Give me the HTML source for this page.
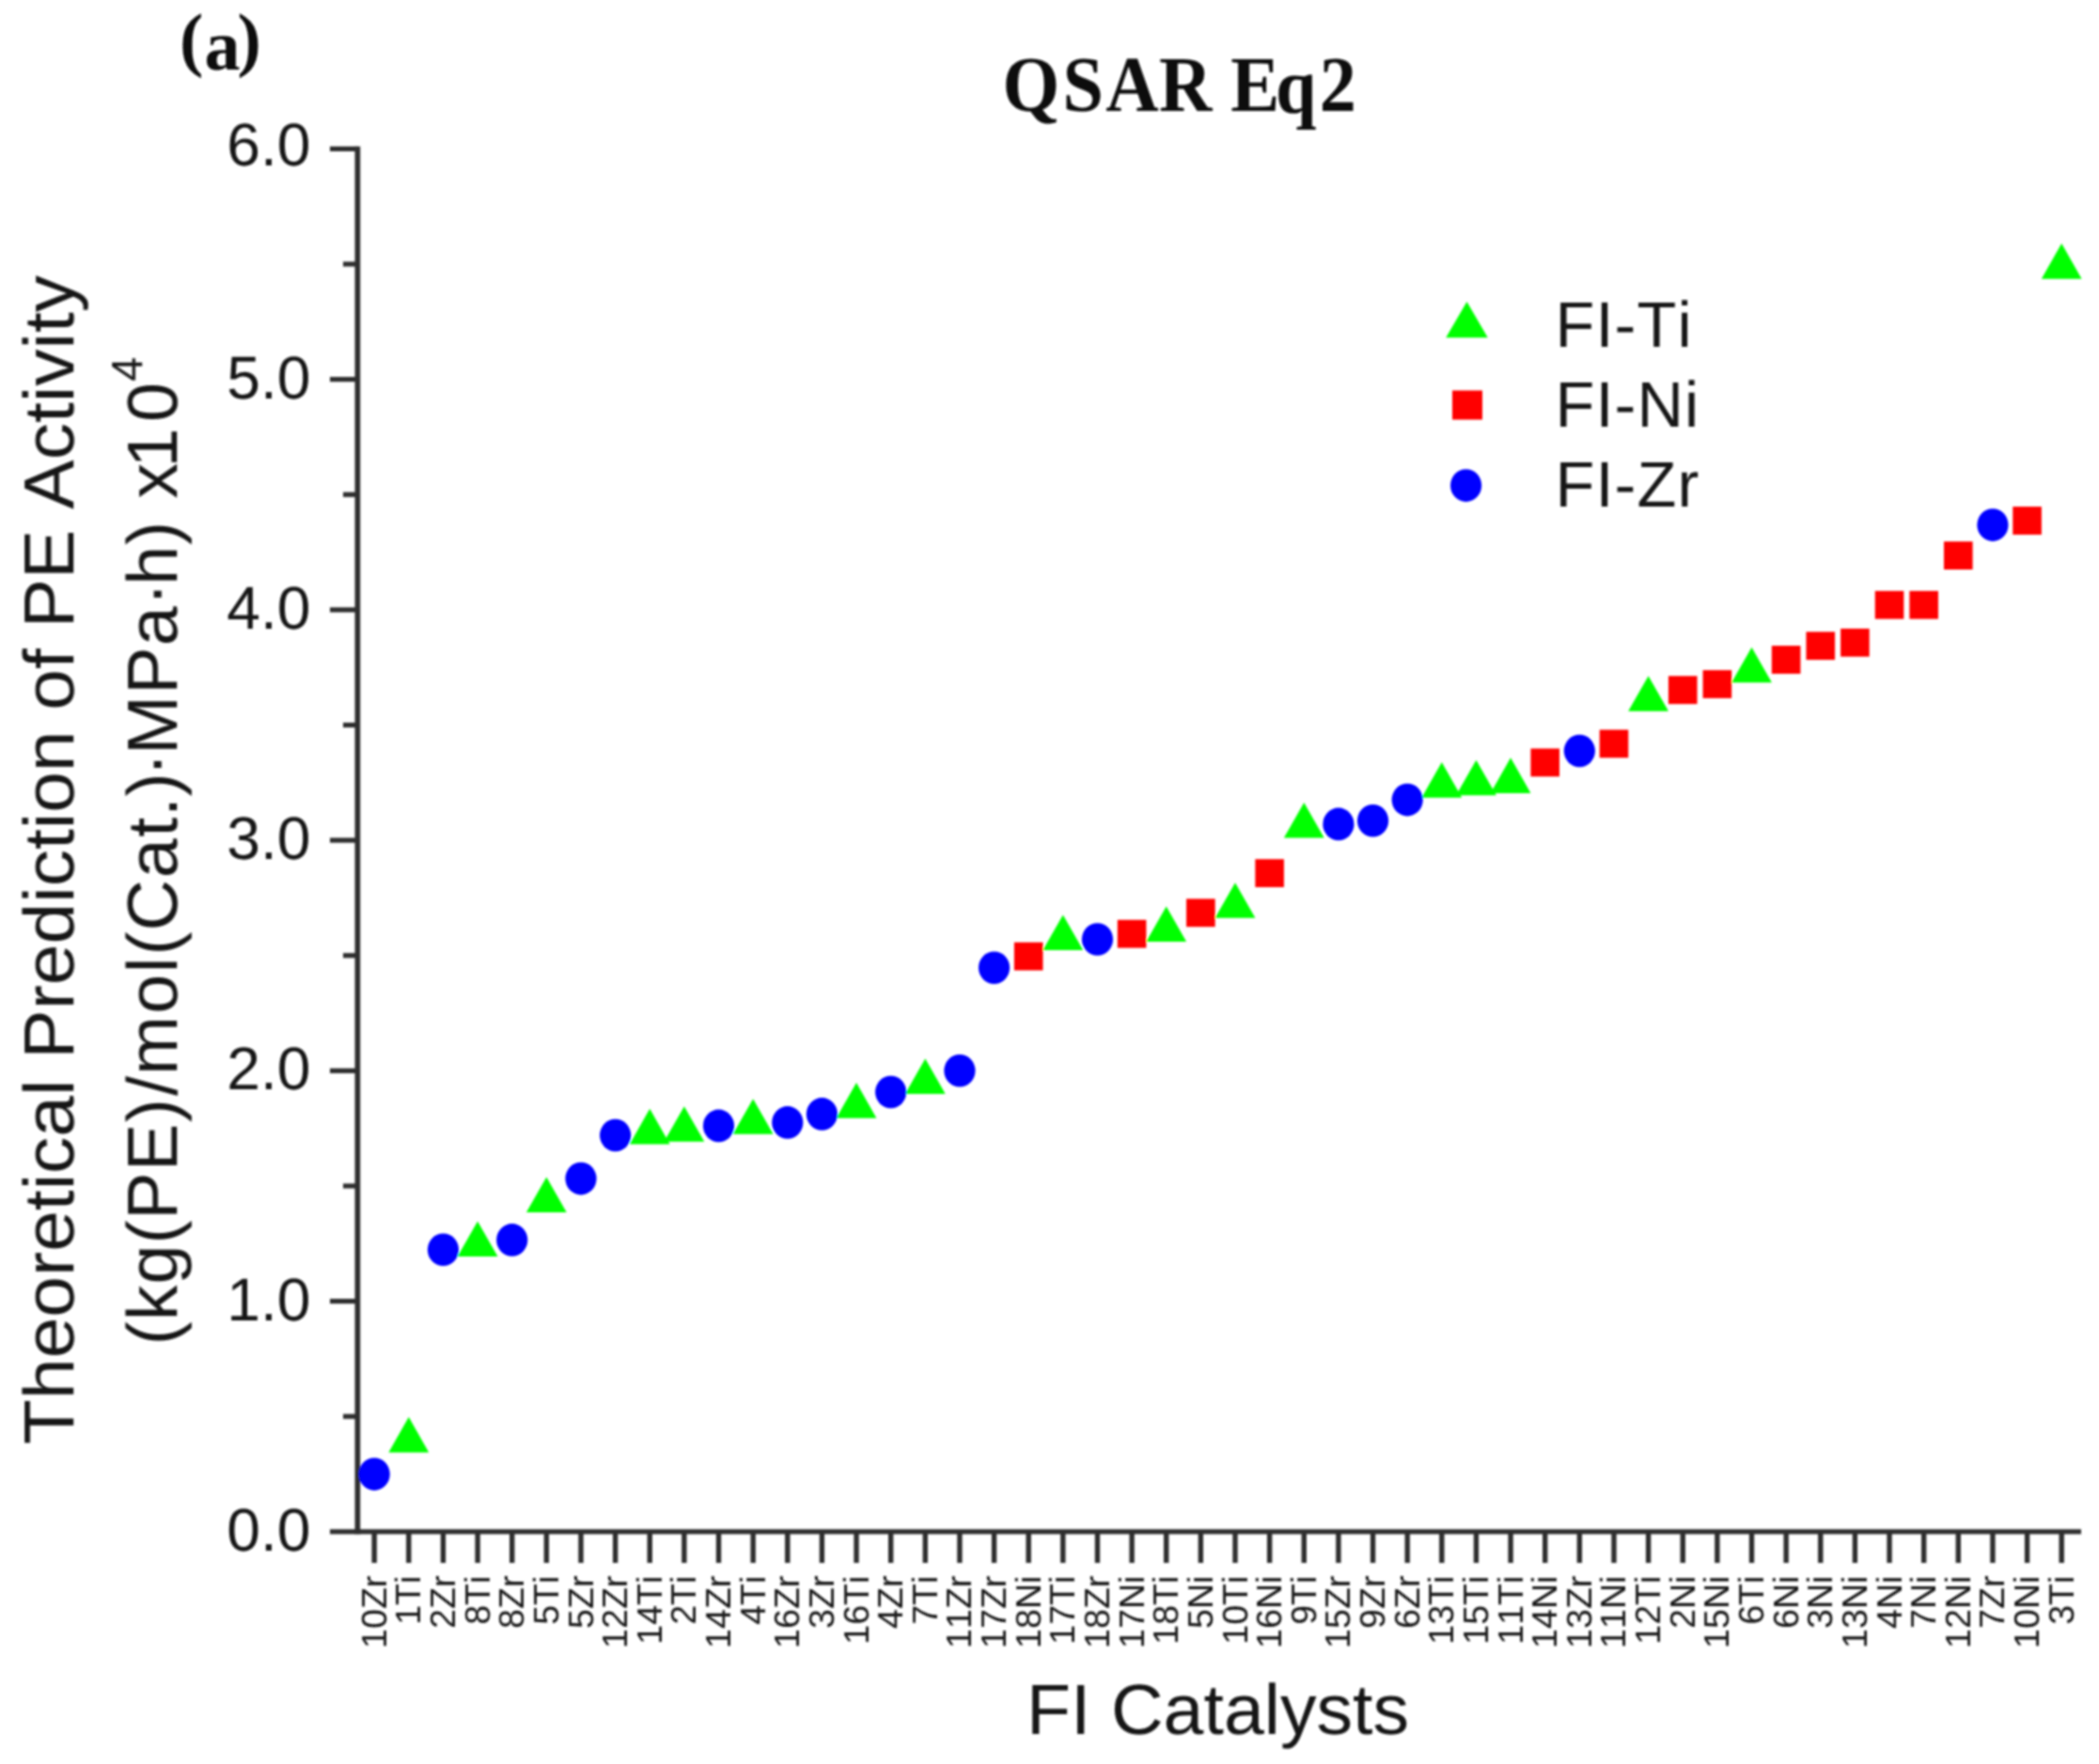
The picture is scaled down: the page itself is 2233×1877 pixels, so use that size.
<!DOCTYPE html>
<html lang="en"><head><meta charset="utf-8"><title>QSAR Eq2</title>
<style>html,body{margin:0;padding:0;background:#fff}body{width:2233px;height:1877px;overflow:hidden}svg{display:block}text{font-family:'Liberation Sans', sans-serif;fill:#151515;font-kerning:none;text-rendering:geometricPrecision}.serif{font-family:'Liberation Serif', serif;font-weight:bold;fill:#0c0c0c}</style>
</head><body>
<svg width="2233" height="1877" viewBox="0 0 2233 1877">
<rect x="0" y="0" width="2233" height="1877" fill="#ffffff"/>
<g filter="url(#soft)">
<text class="serif" transform="scale(1.0000,1)" font-size="76" x="190.89 217.55 252.55" y="67.30 74.40 67.30">(a)</text>
<text class="serif" transform="scale(0.9300,1)" font-size="84" x="1146.74 1215.70 1264.71 1325.90 1367.90 1407.93 1459.23 1509.31" y="117.50 117.50 117.50 117.50 117.50 117.50 120.00 117.50">QSAR Eq2</text>
<g fill="#2e2e2e">
<rect x="377.55" y="155.80" width="5.70" height="1476.60"/>
<rect x="351.00" y="1627.20" width="1863.00" height="5.20"/>
<rect x="351.00" y="155.80" width="29.40" height="5.20"/>
<rect x="365.00" y="278.42" width="15.40" height="5.20"/>
<rect x="351.00" y="401.03" width="29.40" height="5.20"/>
<rect x="365.00" y="523.65" width="15.40" height="5.20"/>
<rect x="351.00" y="646.27" width="29.40" height="5.20"/>
<rect x="365.00" y="768.88" width="15.40" height="5.20"/>
<rect x="351.00" y="891.50" width="29.40" height="5.20"/>
<rect x="365.00" y="1014.12" width="15.40" height="5.20"/>
<rect x="351.00" y="1136.73" width="29.40" height="5.20"/>
<rect x="365.00" y="1259.35" width="15.40" height="5.20"/>
<rect x="351.00" y="1381.97" width="29.40" height="5.20"/>
<rect x="365.00" y="1504.58" width="15.40" height="5.20"/>
<rect x="395.50" y="1629.80" width="5.40" height="33.20"/>
<rect x="432.13" y="1629.80" width="5.40" height="33.20"/>
<rect x="468.77" y="1629.80" width="5.40" height="33.20"/>
<rect x="505.40" y="1629.80" width="5.40" height="33.20"/>
<rect x="542.03" y="1629.80" width="5.40" height="33.20"/>
<rect x="578.66" y="1629.80" width="5.40" height="33.20"/>
<rect x="615.30" y="1629.80" width="5.40" height="33.20"/>
<rect x="651.93" y="1629.80" width="5.40" height="33.20"/>
<rect x="688.56" y="1629.80" width="5.40" height="33.20"/>
<rect x="725.19" y="1629.80" width="5.40" height="33.20"/>
<rect x="761.83" y="1629.80" width="5.40" height="33.20"/>
<rect x="798.46" y="1629.80" width="5.40" height="33.20"/>
<rect x="835.09" y="1629.80" width="5.40" height="33.20"/>
<rect x="871.72" y="1629.80" width="5.40" height="33.20"/>
<rect x="908.36" y="1629.80" width="5.40" height="33.20"/>
<rect x="944.99" y="1629.80" width="5.40" height="33.20"/>
<rect x="981.62" y="1629.80" width="5.40" height="33.20"/>
<rect x="1018.26" y="1629.80" width="5.40" height="33.20"/>
<rect x="1054.89" y="1629.80" width="5.40" height="33.20"/>
<rect x="1091.52" y="1629.80" width="5.40" height="33.20"/>
<rect x="1128.15" y="1629.80" width="5.40" height="33.20"/>
<rect x="1164.79" y="1629.80" width="5.40" height="33.20"/>
<rect x="1201.42" y="1629.80" width="5.40" height="33.20"/>
<rect x="1238.05" y="1629.80" width="5.40" height="33.20"/>
<rect x="1274.68" y="1629.80" width="5.40" height="33.20"/>
<rect x="1311.32" y="1629.80" width="5.40" height="33.20"/>
<rect x="1347.95" y="1629.80" width="5.40" height="33.20"/>
<rect x="1384.58" y="1629.80" width="5.40" height="33.20"/>
<rect x="1421.21" y="1629.80" width="5.40" height="33.20"/>
<rect x="1457.85" y="1629.80" width="5.40" height="33.20"/>
<rect x="1494.48" y="1629.80" width="5.40" height="33.20"/>
<rect x="1531.11" y="1629.80" width="5.40" height="33.20"/>
<rect x="1567.74" y="1629.80" width="5.40" height="33.20"/>
<rect x="1604.38" y="1629.80" width="5.40" height="33.20"/>
<rect x="1641.01" y="1629.80" width="5.40" height="33.20"/>
<rect x="1677.64" y="1629.80" width="5.40" height="33.20"/>
<rect x="1714.28" y="1629.80" width="5.40" height="33.20"/>
<rect x="1750.91" y="1629.80" width="5.40" height="33.20"/>
<rect x="1787.54" y="1629.80" width="5.40" height="33.20"/>
<rect x="1824.17" y="1629.80" width="5.40" height="33.20"/>
<rect x="1860.81" y="1629.80" width="5.40" height="33.20"/>
<rect x="1897.44" y="1629.80" width="5.40" height="33.20"/>
<rect x="1934.07" y="1629.80" width="5.40" height="33.20"/>
<rect x="1970.70" y="1629.80" width="5.40" height="33.20"/>
<rect x="2007.34" y="1629.80" width="5.40" height="33.20"/>
<rect x="2043.97" y="1629.80" width="5.40" height="33.20"/>
<rect x="2080.60" y="1629.80" width="5.40" height="33.20"/>
<rect x="2117.23" y="1629.80" width="5.40" height="33.20"/>
<rect x="2153.87" y="1629.80" width="5.40" height="33.20"/>
<rect x="2190.50" y="1629.80" width="5.40" height="33.20"/>
</g>
<text x="330.5" y="176.40" font-size="64.2" text-anchor="end">6.0</text>
<text x="330.5" y="423.63" font-size="64.2" text-anchor="end">5.0</text>
<text x="330.5" y="668.87" font-size="64.2" text-anchor="end">4.0</text>
<text x="330.5" y="914.10" font-size="64.2" text-anchor="end">3.0</text>
<text x="330.5" y="1159.33" font-size="64.2" text-anchor="end">2.0</text>
<text x="330.5" y="1404.57" font-size="64.2" text-anchor="end">1.0</text>
<text x="330.5" y="1649.80" font-size="64.2" text-anchor="end">0.0</text>
<text transform="translate(410.70,1676.6) rotate(-90)" font-size="37.6" text-anchor="end" fill="#3c3c3c">10Zr</text>
<text transform="translate(447.33,1676.6) rotate(-90)" font-size="37.6" text-anchor="end" fill="#3c3c3c">1Ti</text>
<text transform="translate(483.97,1676.6) rotate(-90)" font-size="37.6" text-anchor="end" fill="#3c3c3c">2Zr</text>
<text transform="translate(520.60,1676.6) rotate(-90)" font-size="37.6" text-anchor="end" fill="#3c3c3c">8Ti</text>
<text transform="translate(557.23,1676.6) rotate(-90)" font-size="37.6" text-anchor="end" fill="#3c3c3c">8Zr</text>
<text transform="translate(593.86,1676.6) rotate(-90)" font-size="37.6" text-anchor="end" fill="#3c3c3c">5Ti</text>
<text transform="translate(630.50,1676.6) rotate(-90)" font-size="37.6" text-anchor="end" fill="#3c3c3c">5Zr</text>
<text transform="translate(667.13,1676.6) rotate(-90)" font-size="37.6" text-anchor="end" fill="#3c3c3c">12Zr</text>
<text transform="translate(703.76,1676.6) rotate(-90)" font-size="37.6" text-anchor="end" fill="#3c3c3c">14Ti</text>
<text transform="translate(740.39,1676.6) rotate(-90)" font-size="37.6" text-anchor="end" fill="#3c3c3c">2Ti</text>
<text transform="translate(777.03,1676.6) rotate(-90)" font-size="37.6" text-anchor="end" fill="#3c3c3c">14Zr</text>
<text transform="translate(813.66,1676.6) rotate(-90)" font-size="37.6" text-anchor="end" fill="#3c3c3c">4Ti</text>
<text transform="translate(850.29,1676.6) rotate(-90)" font-size="37.6" text-anchor="end" fill="#3c3c3c">16Zr</text>
<text transform="translate(886.92,1676.6) rotate(-90)" font-size="37.6" text-anchor="end" fill="#3c3c3c">3Zr</text>
<text transform="translate(923.56,1676.6) rotate(-90)" font-size="37.6" text-anchor="end" fill="#3c3c3c">16Ti</text>
<text transform="translate(960.19,1676.6) rotate(-90)" font-size="37.6" text-anchor="end" fill="#3c3c3c">4Zr</text>
<text transform="translate(996.82,1676.6) rotate(-90)" font-size="37.6" text-anchor="end" fill="#3c3c3c">7Ti</text>
<text transform="translate(1033.46,1676.6) rotate(-90)" font-size="37.6" text-anchor="end" fill="#3c3c3c">11Zr</text>
<text transform="translate(1070.09,1676.6) rotate(-90)" font-size="37.6" text-anchor="end" fill="#3c3c3c">17Zr</text>
<text transform="translate(1106.72,1676.6) rotate(-90)" font-size="37.6" text-anchor="end" fill="#3c3c3c">18Ni</text>
<text transform="translate(1143.35,1676.6) rotate(-90)" font-size="37.6" text-anchor="end" fill="#3c3c3c">17Ti</text>
<text transform="translate(1179.99,1676.6) rotate(-90)" font-size="37.6" text-anchor="end" fill="#3c3c3c">18Zr</text>
<text transform="translate(1216.62,1676.6) rotate(-90)" font-size="37.6" text-anchor="end" fill="#3c3c3c">17Ni</text>
<text transform="translate(1253.25,1676.6) rotate(-90)" font-size="37.6" text-anchor="end" fill="#3c3c3c">18Ti</text>
<text transform="translate(1289.88,1676.6) rotate(-90)" font-size="37.6" text-anchor="end" fill="#3c3c3c">5Ni</text>
<text transform="translate(1326.52,1676.6) rotate(-90)" font-size="37.6" text-anchor="end" fill="#3c3c3c">10Ti</text>
<text transform="translate(1363.15,1676.6) rotate(-90)" font-size="37.6" text-anchor="end" fill="#3c3c3c">16Ni</text>
<text transform="translate(1399.78,1676.6) rotate(-90)" font-size="37.6" text-anchor="end" fill="#3c3c3c">9Ti</text>
<text transform="translate(1436.41,1676.6) rotate(-90)" font-size="37.6" text-anchor="end" fill="#3c3c3c">15Zr</text>
<text transform="translate(1473.05,1676.6) rotate(-90)" font-size="37.6" text-anchor="end" fill="#3c3c3c">9Zr</text>
<text transform="translate(1509.68,1676.6) rotate(-90)" font-size="37.6" text-anchor="end" fill="#3c3c3c">6Zr</text>
<text transform="translate(1546.31,1676.6) rotate(-90)" font-size="37.6" text-anchor="end" fill="#3c3c3c">13Ti</text>
<text transform="translate(1582.94,1676.6) rotate(-90)" font-size="37.6" text-anchor="end" fill="#3c3c3c">15Ti</text>
<text transform="translate(1619.58,1676.6) rotate(-90)" font-size="37.6" text-anchor="end" fill="#3c3c3c">11Ti</text>
<text transform="translate(1656.21,1676.6) rotate(-90)" font-size="37.6" text-anchor="end" fill="#3c3c3c">14Ni</text>
<text transform="translate(1692.84,1676.6) rotate(-90)" font-size="37.6" text-anchor="end" fill="#3c3c3c">13Zr</text>
<text transform="translate(1729.48,1676.6) rotate(-90)" font-size="37.6" text-anchor="end" fill="#3c3c3c">11Ni</text>
<text transform="translate(1766.11,1676.6) rotate(-90)" font-size="37.6" text-anchor="end" fill="#3c3c3c">12Ti</text>
<text transform="translate(1802.74,1676.6) rotate(-90)" font-size="37.6" text-anchor="end" fill="#3c3c3c">2Ni</text>
<text transform="translate(1839.37,1676.6) rotate(-90)" font-size="37.6" text-anchor="end" fill="#3c3c3c">15Ni</text>
<text transform="translate(1876.01,1676.6) rotate(-90)" font-size="37.6" text-anchor="end" fill="#3c3c3c">6Ti</text>
<text transform="translate(1912.64,1676.6) rotate(-90)" font-size="37.6" text-anchor="end" fill="#3c3c3c">6Ni</text>
<text transform="translate(1949.27,1676.6) rotate(-90)" font-size="37.6" text-anchor="end" fill="#3c3c3c">3Ni</text>
<text transform="translate(1985.90,1676.6) rotate(-90)" font-size="37.6" text-anchor="end" fill="#3c3c3c">13Ni</text>
<text transform="translate(2022.54,1676.6) rotate(-90)" font-size="37.6" text-anchor="end" fill="#3c3c3c">4Ni</text>
<text transform="translate(2059.17,1676.6) rotate(-90)" font-size="37.6" text-anchor="end" fill="#3c3c3c">7Ni</text>
<text transform="translate(2095.80,1676.6) rotate(-90)" font-size="37.6" text-anchor="end" fill="#3c3c3c">12Ni</text>
<text transform="translate(2132.43,1676.6) rotate(-90)" font-size="37.6" text-anchor="end" fill="#3c3c3c">7Zr</text>
<text transform="translate(2169.07,1676.6) rotate(-90)" font-size="37.6" text-anchor="end" fill="#3c3c3c">10Ni</text>
<text transform="translate(2205.70,1676.6) rotate(-90)" font-size="37.6" text-anchor="end" fill="#3c3c3c">3Ti</text>
<text x="1092" y="1844.8" font-size="75.5" textLength="407" lengthAdjust="spacingAndGlyphs">FI Catalysts</text>
<text transform="translate(78.2,1537) rotate(-90)" font-size="75.5" textLength="1244" lengthAdjust="spacingAndGlyphs">Theoretical Prediction of PE Activity</text>
<text transform="translate(188.2,0) rotate(-90)" font-size="75.5" x="-1431.21 -1405.39 -1366.64 -1323.52 -1297.71 -1246.01 -1194.31 -1165.90 -1144.11 -1078.79 -1035.18 -1016.54 -990.55 -934.20 -890.81 -869.13 -847.45 -826.05 -803.14 -738.75 -687.19 -644.85 -622.83 -580.11 -545.00 -530.60 -497.53 -449.00" y="0">(kg(PE)/mol(Cat.)·MPa·h) x10<tspan font-size="46.5" x="-405.87" y="-37.5">4</tspan></text>
<polygon fill="#00ff00" points="413.43,1545.40 456.23,1545.40 434.83,1507.80"/>
<polygon fill="#00ff00" points="486.70,1337.00 529.50,1337.00 508.10,1299.40"/>
<polygon fill="#00ff00" points="559.96,1290.00 602.76,1290.00 581.36,1252.40"/>
<polygon fill="#00ff00" points="669.86,1217.40 712.66,1217.40 691.26,1179.80"/>
<polygon fill="#00ff00" points="706.49,1214.80 749.29,1214.80 727.89,1177.20"/>
<polygon fill="#00ff00" points="779.76,1206.80 822.56,1206.80 801.16,1169.20"/>
<polygon fill="#00ff00" points="889.66,1189.70 932.46,1189.70 911.06,1152.10"/>
<polygon fill="#00ff00" points="962.92,1164.00 1005.72,1164.00 984.32,1126.40"/>
<polygon fill="#00ff00" points="1109.45,1011.00 1152.25,1011.00 1130.85,973.40"/>
<polygon fill="#00ff00" points="1219.35,1002.00 1262.15,1002.00 1240.75,964.40"/>
<polygon fill="#00ff00" points="1292.62,976.80 1335.42,976.80 1314.02,939.20"/>
<polygon fill="#00ff00" points="1365.88,891.60 1408.68,891.60 1387.28,854.00"/>
<polygon fill="#00ff00" points="1512.41,848.70 1555.21,848.70 1533.81,811.10"/>
<polygon fill="#00ff00" points="1549.04,846.30 1591.84,846.30 1570.44,808.70"/>
<polygon fill="#00ff00" points="1585.68,843.90 1628.48,843.90 1607.08,806.30"/>
<polygon fill="#00ff00" points="1732.21,756.80 1775.01,756.80 1753.61,719.20"/>
<polygon fill="#00ff00" points="1842.11,726.30 1884.91,726.30 1863.51,688.70"/>
<polygon fill="#00ff00" points="2171.80,296.70 2214.60,296.70 2193.20,259.10"/>
<rect fill="#ff0000" x="1078.92" y="1002.70" width="30.60" height="29.80"/>
<rect fill="#ff0000" x="1188.82" y="978.80" width="30.60" height="29.80"/>
<rect fill="#ff0000" x="1262.08" y="956.40" width="30.60" height="29.80"/>
<rect fill="#ff0000" x="1335.35" y="914.20" width="30.60" height="29.80"/>
<rect fill="#ff0000" x="1628.41" y="796.50" width="30.60" height="29.80"/>
<rect fill="#ff0000" x="1701.68" y="776.50" width="30.60" height="29.80"/>
<rect fill="#ff0000" x="1774.94" y="719.30" width="30.60" height="29.80"/>
<rect fill="#ff0000" x="1811.57" y="713.10" width="30.60" height="29.80"/>
<rect fill="#ff0000" x="1884.84" y="687.10" width="30.60" height="29.80"/>
<rect fill="#ff0000" x="1921.47" y="672.30" width="30.60" height="29.80"/>
<rect fill="#ff0000" x="1958.10" y="668.90" width="30.60" height="29.80"/>
<rect fill="#ff0000" x="1994.74" y="628.80" width="30.60" height="29.80"/>
<rect fill="#ff0000" x="2031.37" y="628.80" width="30.60" height="29.80"/>
<rect fill="#ff0000" x="2068.00" y="576.20" width="30.60" height="29.80"/>
<rect fill="#ff0000" x="2141.27" y="539.10" width="30.60" height="29.80"/>
<ellipse fill="#0000ff" cx="398.20" cy="1568.60" rx="16.60" ry="17.30"/>
<ellipse fill="#0000ff" cx="471.47" cy="1329.80" rx="16.60" ry="17.30"/>
<ellipse fill="#0000ff" cx="544.73" cy="1319.40" rx="16.60" ry="17.30"/>
<ellipse fill="#0000ff" cx="618.00" cy="1254.10" rx="16.60" ry="17.30"/>
<ellipse fill="#0000ff" cx="654.63" cy="1208.00" rx="16.60" ry="17.30"/>
<ellipse fill="#0000ff" cx="764.53" cy="1197.90" rx="16.60" ry="17.30"/>
<ellipse fill="#0000ff" cx="837.79" cy="1194.40" rx="16.60" ry="17.30"/>
<ellipse fill="#0000ff" cx="874.42" cy="1185.40" rx="16.60" ry="17.30"/>
<ellipse fill="#0000ff" cx="947.69" cy="1162.00" rx="16.60" ry="17.30"/>
<ellipse fill="#0000ff" cx="1020.96" cy="1139.30" rx="16.60" ry="17.30"/>
<ellipse fill="#0000ff" cx="1057.59" cy="1029.70" rx="16.60" ry="17.30"/>
<ellipse fill="#0000ff" cx="1167.49" cy="999.50" rx="16.60" ry="17.30"/>
<ellipse fill="#0000ff" cx="1423.91" cy="876.90" rx="16.60" ry="17.30"/>
<ellipse fill="#0000ff" cx="1460.55" cy="873.30" rx="16.60" ry="17.30"/>
<ellipse fill="#0000ff" cx="1497.18" cy="851.10" rx="16.60" ry="17.30"/>
<ellipse fill="#0000ff" cx="1680.34" cy="799.00" rx="16.60" ry="17.30"/>
<ellipse fill="#0000ff" cx="2119.93" cy="558.60" rx="16.60" ry="17.30"/>
<polygon fill="#00ff00" points="1538.25,359.30 1582.75,359.30 1560.50,321.10"/>
<rect fill="#ff0000" x="1545.00" y="415.50" width="32.00" height="31.00"/>
<ellipse fill="#0000ff" cx="1559.60" cy="516.60" rx="16.60" ry="17.30"/>
<text x="1654.5" y="368.6" font-size="68.5" letter-spacing="1.1">FI-Ti</text>
<text x="1654.5" y="453.9" font-size="68.5" letter-spacing="1.1">FI-Ni</text>
<text x="1654.5" y="539.2" font-size="68.5" letter-spacing="1.1">FI-Zr</text>
</g>
<defs><filter id="soft" x="0" y="0" width="2233" height="1877" filterUnits="userSpaceOnUse"><feGaussianBlur stdDeviation="1.15"/></filter></defs>
</svg>
</body></html>
